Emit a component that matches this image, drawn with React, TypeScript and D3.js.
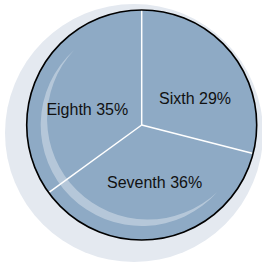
import * as d3 from "d3";

const categories = ["Sixth", "Seventh", "Eighth"];
const shares = [29, 36, 35];

const WIDTH = 262;
const HEIGHT = 265;
const CX = 141.7;
const CY = 125;
const RADIUS = 115;
const LABEL_RADIUS = 58;
// hand nudges so the labels sit where the original put them
const LABEL_NUDGE: Record<string, [number, number]> = {
  Sixth: [7.5, 9],
  Seventh: [2, 0.5],
  Eighth: [-2.7, 10.5],
};

const FILL = "#8eaac5";
const BACKDROP = "#e4e9f0";

function polar(r: number, angle: number): [number, number] {
  return [CX + r * Math.sin(angle), CY - r * Math.cos(angle)];
}

// glossy crescent: outer circular arc plus a flatter inner arc between the same ends
function crescentPath(r: number, a0: number, a1: number, thickness: number): string {
  const span = a1 - a0;
  const [x0, y0] = polar(r, a0);
  const [x1, y1] = polar(r, a1);
  const half = r * Math.sin(span / 2);
  const outerSag = r - r * Math.cos(span / 2);
  const innerSag = outerSag - thickness;
  const r2 = (half * half + innerSag * innerSag) / (2 * innerSag);
  const large = span > Math.PI ? 1 : 0;
  return `M${x0},${y0}A${r},${r} 0 ${large} 1 ${x1},${y1}A${r2},${r2} 0 0 0 ${x0},${y0}Z`;
}

export default function App() {
  const pie = d3.pie<number>().sort(null).value((d) => d);
  const slices = pie(shares);
  const arc = d3.arc<d3.PieArcDatum<number>>().innerRadius(0).outerRadius(RADIUS);
  const labelArc = d3.arc<d3.PieArcDatum<number>>().innerRadius(LABEL_RADIUS).outerRadius(LABEL_RADIUS);
  const rad = (deg: number) => (deg * Math.PI) / 180;

  return (
    <svg
      width={WIDTH}
      height={HEIGHT}
      viewBox={`0 0 ${WIDTH} ${HEIGHT}`}
      style={{ position: "absolute", left: 0, top: 0, background: "#fff" }}
    >
      <circle cx={134} cy={133} r={129} fill={BACKDROP} />
      <g transform={`translate(${CX} ${CY})`}>
        {slices.map((s, i) => (
          <path key={categories[i]} d={arc(s) ?? undefined} fill={FILL} />
        ))}
      </g>
      <path d={crescentPath(101, rad(131.5), rad(318), 9)} fill="#fff" fillOpacity={0.35} />
      {slices.map((s, i) => {
        const [x, y] = polar(RADIUS, s.startAngle);
        return <line key={`sep-${i}`} x1={CX} y1={CY} x2={x} y2={y} stroke="#fff" strokeWidth={1.5} />;
      })}
      <circle cx={CX} cy={CY} r={RADIUS} fill="none" stroke="#000" strokeWidth={1.6} />
      {slices.map((s, i) => {
        const [lx, ly] = labelArc.centroid(s);
        const [nx, ny] = LABEL_NUDGE[categories[i]];
        return (
          <text
            key={`label-${i}`}
            x={CX + lx + nx}
            y={CY + ly + ny}
            dy="0.35em"
            textAnchor="middle"
            fontFamily="'Liberation Sans', Arial, sans-serif"
            fontSize={16}
            fill="#111"
          >
            {`${categories[i]} ${shares[i]}%`}
          </text>
        );
      })}
    </svg>
  );
}
